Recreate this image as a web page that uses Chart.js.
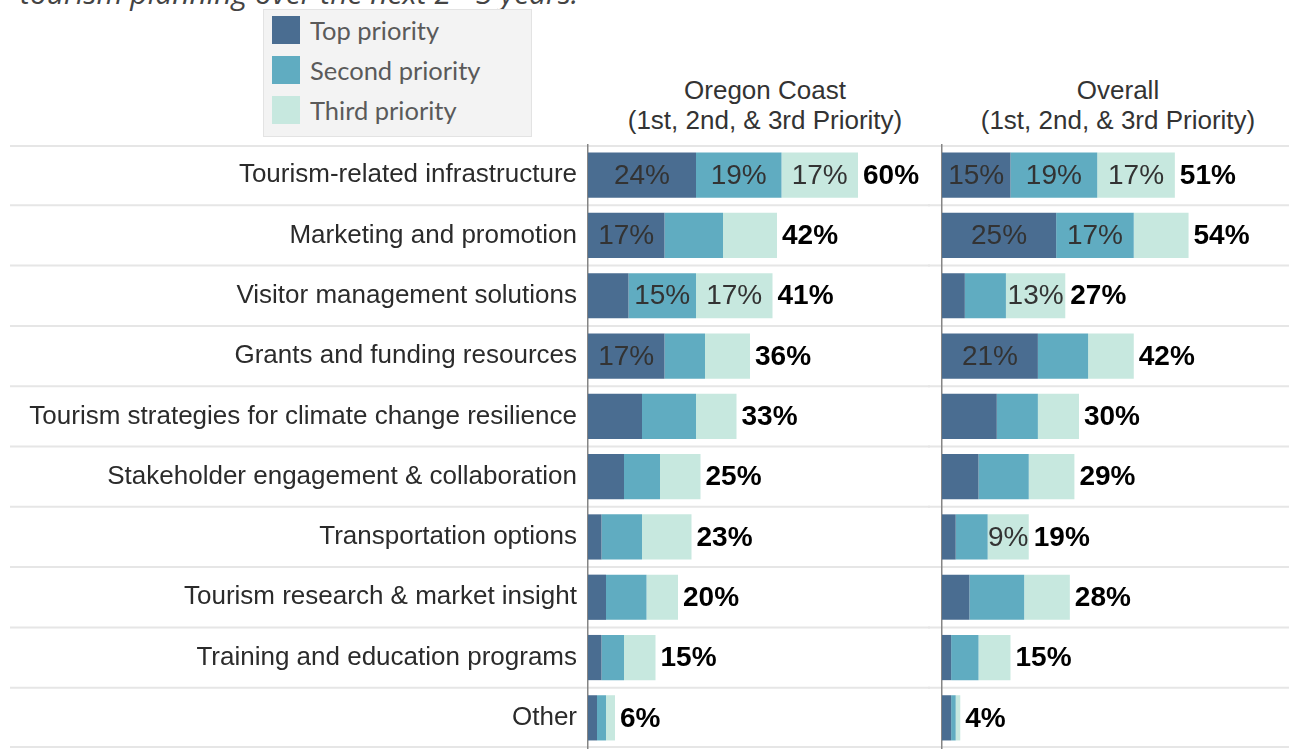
<!DOCTYPE html>
<html>
<head>
<meta charset="utf-8">
<script src="https://cdn.jsdelivr.net/npm/chart.js@4.4.1/dist/chart.umd.min.js"></script>
<style>
  body { margin: 0; width: 1289px; height: 749px; overflow: hidden; background: #fff; position: relative; font-family: 'Liberation Sans', Arial, sans-serif; }
  .abs { position: absolute; }
  #title { left: 20px; top: -22px; font: italic 30px/30px 'Open Sans', sans-serif; color: #444; white-space: nowrap; }
  #legend { left: 263px; top: 9px; width: 269px; height: 128px; background: #f3f3f3; border: 1px solid #e3e3e3; box-sizing: border-box; }
  .item { position: absolute; left: 8px; height: 28px; font: 25.5px/28px Lato, sans-serif; color: #5a5a5a; white-space: nowrap; }
  .item span { display: inline-block; width: 28px; height: 28px; vertical-align: top; margin-right: 10px; }
  .head { text-align: center; font-size: 26px; line-height: 30px; color: #333; white-space: nowrap; }
</style>
</head>
<body>
<div id="title" class="abs">tourism planning over the next 2 - 3 years.</div>
<div id="legend" class="abs">
  <div class="item" style="top:6px"><span style="background:#4a6d91"></span>Top priority</div>
  <div class="item" style="top:46px"><span style="background:#60acc1"></span>Second priority</div>
  <div class="item" style="top:86px"><span style="background:#c7e8df"></span>Third priority</div>
</div>
<div class="abs head" style="left:595px; top:75px; width:340px">Oregon Coast<br>(1st, 2nd, &amp; 3rd Priority)</div>
<div class="abs head" style="left:938px; top:75px; width:360px">Overall<br>(1st, 2nd, &amp; 3rd Priority)</div>
<div class="abs" style="left:0; top:135px; width:930px; height:614px"><canvas id="oregon"></canvas></div>
<div class="abs" style="left:928px; top:135px; width:361px; height:614px"><canvas id="overall"></canvas></div>
<script>
const categories = [
  'Tourism-related infrastructure',
  'Marketing and promotion',
  'Visitor management solutions',
  'Grants and funding resources',
  'Tourism strategies for climate change resilience',
  'Stakeholder engagement & collaboration',
  'Transportation options',
  'Tourism research & market insight',
  'Training and education programs',
  'Other'
];
const seriesNames = ['Top priority', 'Second priority', 'Third priority'];
const colors = ['#4a6d91', '#60acc1', '#c7e8df'];

// Oregon Coast
const oregonTop    = [24, 17,  9, 17, 12, 8,  3, 4, 3, 2];
const oregonSecond = [19, 13, 15,  9, 12, 8,  9, 9, 5, 2];
const oregonThird  = [17, 12, 17, 10,  9, 9, 11, 7, 7, 2];
const oregonTotal  = [60, 42, 41, 36, 33, 25, 23, 20, 15, 6];

// Overall
const overallTop    = [15, 25,  5, 21, 12,  8, 3,  6, 2, 2];
const overallSecond = [19, 17,  9, 11,  9, 11, 7, 12, 6, 1];
const overallThird  = [17, 12, 13, 10,  9, 10, 9, 10, 7, 1];
const overallTotal  = [51, 54, 27, 42, 30, 29, 19, 28, 15, 4];

// which segment values are printed inside the bars
const oregonShown = [
  [1, 1, 0, 1, 0, 0, 0, 0, 0, 0],
  [1, 0, 1, 0, 0, 0, 0, 0, 0, 0],
  [1, 0, 1, 0, 0, 0, 0, 0, 0, 0]
];
const overallShown = [
  [1, 1, 0, 1, 0, 0, 0, 0, 0, 0],
  [1, 1, 0, 0, 0, 0, 0, 0, 0, 0],
  [1, 0, 1, 0, 0, 0, 1, 0, 0, 0]
];

const xMax = 76;
const FONT = "'Liberation Sans', Arial, sans-serif";

const rowLines = {
  id: 'rowLines',
  beforeDraw(chart, args, opts) {
    const {ctx, chartArea} = chart;
    const y = chart.scales.y;
    const n = chart.data.labels.length;
    const step = y.getPixelForValue(1) - y.getPixelForValue(0);
    ctx.save();
    ctx.strokeStyle = '#e6e6e6';
    ctx.lineWidth = 2;
    for (let i = 0; i <= n; i++) {
      let py = i < n ? y.getPixelForValue(i) - step / 2 : chartArea.bottom;
      py = Math.max(chartArea.top + 1, Math.min(chartArea.bottom - 1, py));
      ctx.beginPath();
      ctx.moveTo(opts.x0 || 0, py);
      ctx.lineTo(chart.width, py);
      ctx.stroke();
    }
    ctx.restore();
  }
};

const barLabels = {
  id: 'barLabels',
  afterDatasetsDraw(chart, args, opts) {
    const ctx = chart.ctx;
    ctx.save();
    ctx.textBaseline = 'middle';
    chart.data.datasets.forEach((ds, i) => {
      const meta = chart.getDatasetMeta(i);
      meta.data.forEach((bar, j) => {
        if (!opts.shown[i][j]) return;
        ctx.font = '28px ' + FONT;
        ctx.fillStyle = '#333';
        ctx.textAlign = 'center';
        ctx.fillText(ds.data[j] + '%', (bar.x + bar.base) / 2, bar.y + 1);
      });
    });
    const last = chart.getDatasetMeta(chart.data.datasets.length - 1);
    last.data.forEach((bar, j) => {
      ctx.font = 'bold 28px ' + FONT;
      ctx.fillStyle = '#000';
      ctx.textAlign = 'left';
      ctx.fillText(opts.totals[j] + '%', bar.x + 5, bar.y + 1);
    });
    ctx.restore();
  }
};

function makeChart(id, values, totals, shown, axisWidth, showLabels, x0) {
  return new Chart(document.getElementById(id), {
    type: 'bar',
    data: {
      labels: categories,
      datasets: values.map((v, i) => ({
        label: seriesNames[i],
        data: v,
        backgroundColor: colors[i],
        borderWidth: 0,
        barPercentage: 0.75,
        categoryPercentage: 1
      }))
    },
    options: {
      indexAxis: 'y',
      responsive: true,
      maintainAspectRatio: false,
      animation: false,
      layout: { padding: { top: 10, bottom: 1, left: 0, right: 0 } },
      plugins: {
        legend: { display: false },
        tooltip: { enabled: false },
        rowLines: { x0: x0 },
        barLabels: { totals: totals, shown: shown }
      },
      scales: {
        x: { stacked: true, display: false, min: 0, max: xMax },
        y: {
          stacked: true,
          grid: { display: false, drawTicks: false },
          border: { display: true, color: '#858585', width: 1.5 },
          ticks: {
            display: showLabels,
            padding: 11,
            color: '#2b2b2b',
            font: { family: FONT, size: 26 }
          },
          afterFit(scale) {
            scale.width = axisWidth;
            scale.paddingTop = 0;
            scale.paddingBottom = 0;
          }
        }
      }
    },
    plugins: [rowLines, barLabels]
  });
}

makeChart('oregon', [oregonTop, oregonSecond, oregonThird], oregonTotal, oregonShown, 588, true, 10);
makeChart('overall', [overallTop, overallSecond, overallThird], overallTotal, overallShown, 14, false, 0);
</script>
</body>
</html>
